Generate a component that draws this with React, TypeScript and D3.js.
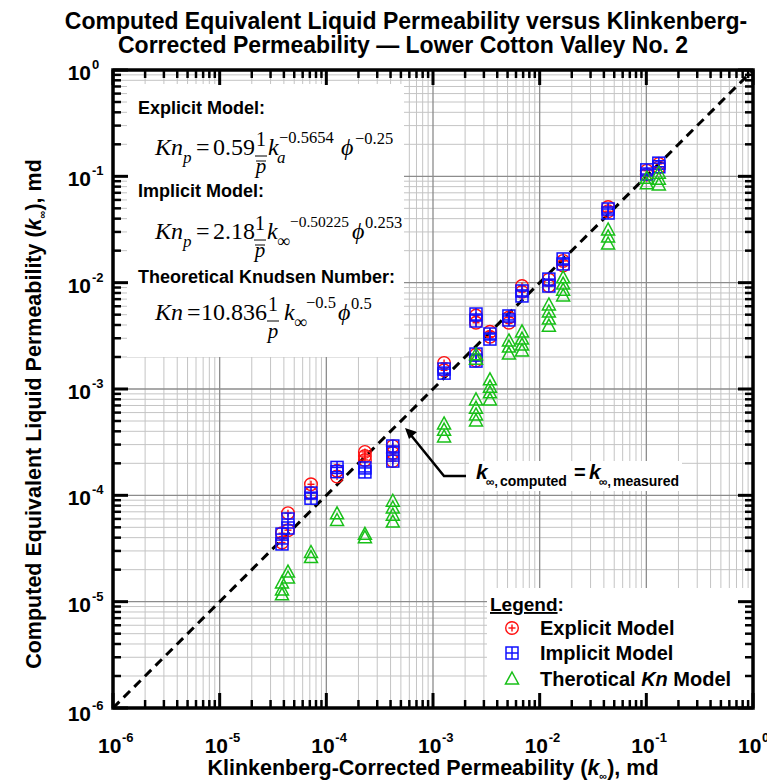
import React from "react";
import * as d3 from "d3";

const W = 767;
const H = 781;
const PL = 113, PR = 753, PT = 70, PB = 708;

// axis decades (exponents of 10) and their labels
const tickExponents = [-6, -5, -4, -3, -2, -1, 0];
const tickLabels = ["-6", "-5", "-4", "-3", "-2", "-1", "0"];
const minorMultipliers = [2, 3, 4, 5, 6, 7, 8, 9];

// Explicit model (red circles)
const explicitK = [
  3.84e-5, 3.84e-5, 4.37e-5, 4.37e-5, 7.18e-5, 7.18e-5, 1.26e-4, 1.26e-4,
  2.3e-4, 2.3e-4, 2.3e-4, 4.2e-4, 4.2e-4, 4.2e-4, 1.27e-3, 1.27e-3,
  2.53e-3, 2.53e-3, 2.53e-3, 2.53e-3, 3.42e-3, 3.42e-3, 5.15e-3, 5.15e-3,
  6.83e-3, 6.83e-3, 1.22e-2, 1.22e-2, 1.66e-2, 1.66e-2, 4.38e-2, 4.38e-2,
  0.101, 0.101, 0.131, 0.131,
];
const explicitKc = [
  4.4e-5, 3.6e-5, 6.8e-5, 4.7e-5, 1.27e-4, 1.05e-4, 1.5e-4, 1.7e-4,
  2.56e-4, 2.34e-4, 2.15e-4, 2.9e-4, 2.5e-4, 2.1e-4, 1.76e-3, 1.5e-3,
  4.9e-3, 4.2e-3, 2.1e-3, 1.85e-3, 3.45e-3, 3.1e-3, 4.7e-3, 4.2e-3,
  9.3e-3, 8.2e-3, 1.07e-2, 9.3e-3, 1.6e-2, 1.45e-2, 5.15e-2, 4.7e-2,
  0.113, 0.104, 0.131, 0.122,
];

// Implicit model (blue squares)
const implicitK = [
  3.84e-5, 3.84e-5, 4.37e-5, 4.37e-5, 7.18e-5, 7.18e-5, 1.26e-4, 1.26e-4,
  2.3e-4, 2.3e-4, 4.2e-4, 4.2e-4, 4.2e-4, 1.27e-3, 1.27e-3,
  2.53e-3, 2.53e-3, 2.53e-3, 2.53e-3, 3.42e-3, 3.42e-3, 5.15e-3, 5.15e-3,
  6.83e-3, 6.83e-3, 1.22e-2, 1.22e-2, 1.66e-2, 1.66e-2, 4.38e-2, 4.38e-2,
  0.101, 0.101, 0.131, 0.131,
];
const implicitKc = [
  4.32e-5, 3.49e-5, 5.99e-5, 4.93e-5, 1.05e-4, 9.4e-5, 1.83e-4, 1.67e-4,
  1.81e-4, 1.66e-4, 2.91e-4, 2.5e-4, 2.1e-4, 1.54e-3, 1.41e-3,
  5.07e-3, 4.36e-3, 2.13e-3, 1.83e-3, 3.29e-3, 2.95e-3, 4.86e-3, 4.46e-3,
  8.35e-3, 7.5e-3, 1.08e-2, 9.3e-3, 1.67e-2, 1.5e-2, 4.93e-2, 4.52e-2,
  0.115, 0.105, 0.133, 0.123,
];

// Theoretical Kn model (green triangles)
const theoryK = [
  3.84e-5, 3.84e-5, 3.84e-5, 4.37e-5, 4.37e-5, 7.18e-5, 7.18e-5,
  1.26e-4, 1.26e-4, 2.3e-4, 2.3e-4, 4.2e-4, 4.2e-4, 4.2e-4, 4.2e-4,
  1.27e-3, 1.27e-3, 1.27e-3,
  2.53e-3, 2.53e-3, 2.53e-3, 2.53e-3, 2.53e-3, 2.53e-3,
  3.42e-3, 3.42e-3, 3.42e-3, 3.42e-3, 5.15e-3, 5.15e-3, 5.15e-3,
  6.83e-3, 6.83e-3, 6.83e-3, 6.83e-3, 1.22e-2, 1.22e-2, 1.22e-2, 1.22e-2,
  1.66e-2, 1.66e-2, 1.66e-2, 1.66e-2, 4.38e-2, 4.38e-2, 4.38e-2,
  0.101, 0.101, 0.131, 0.131, 0.131,
];
const theoryKc = [
  1.5e-5, 1.29e-5, 1.16e-5, 1.9e-5, 1.67e-5, 2.9e-5, 2.6e-5,
  6.7e-5, 5.8e-5, 4.3e-5, 4.0e-5, 8.8e-5, 7.6e-5, 6.5e-5, 5.6e-5,
  4.69e-4, 4.1e-4, 3.54e-4,
  2.1e-3, 1.9e-3, 7.9e-4, 6.6e-4, 5.7e-4, 5.0e-4,
  1.22e-3, 1.04e-3, 9.2e-4, 7.9e-4, 2.83e-3, 2.48e-3, 2.13e-3,
  3.44e-3, 2.95e-3, 2.59e-3, 2.28e-3, 6.17e-3, 5.3e-3, 4.55e-3, 3.9e-3,
  1.11e-2, 9.7e-3, 8.5e-3, 7.5e-3, 3.13e-2, 2.69e-2, 2.31e-2,
  9.6e-2, 8.5e-2, 0.107, 0.094, 0.083,
];

const legendLabels = ["Explicit Model", "Implicit Model", "Therotical "];

const RED = "#ff1010";
const BLUE = "#1010ff";
const GREEN = "#18c018";
const SANS = "'Liberation Sans', Arial, sans-serif";
const SERIF = "'Liberation Serif', 'Times New Roman', 'DejaVu Serif', serif";

const x = d3.scaleLog().domain([1e-6, 1]).range([PL, PR]);
const y = d3.scaleLog().domain([1e-6, 1]).range([PB, PT]);

const Circ = ({ cx, cy }: { cx: number; cy: number }) => (
  <g stroke={RED} strokeWidth={1.4} fill="none">
    <circle cx={cx} cy={cy} r={6.3} />
    <line x1={cx - 3.5} x2={cx + 3.5} y1={cy} y2={cy} />
    <line x1={cx} x2={cx} y1={cy - 3.5} y2={cy + 3.5} />
  </g>
);
const Sq = ({ cx, cy }: { cx: number; cy: number }) => (
  <g stroke={BLUE} strokeWidth={1.5} fill="none">
    <rect x={cx - 6} y={cy - 6} width={12} height={12} />
    <line x1={cx - 6} x2={cx + 6} y1={cy} y2={cy} />
    <line x1={cx} x2={cx} y1={cy - 6} y2={cy + 6} />
  </g>
);
const Tri = ({ cx, cy }: { cx: number; cy: number }) => (
  <path
    d={`M${cx},${cy - 7}L${cx + 6.5},${cy + 5}L${cx - 6.5},${cy + 5}Z`}
    stroke={GREEN}
    strokeWidth={1.5}
    fill="none"
  />
);

// absolute positions (px) of each equation part
const Equation = ({
  y0, coef, kSub, kExp, phiExp, bar, prefixSub, eqX, coefX, fracX, kX, subX, expX, phiX, phiExpX, expSize,
}: any) => (
  <g fontFamily={SERIF} fill="#000">
    <text x={155} y={y0} fontSize={24} fontStyle="italic">Kn</text>
    {prefixSub && (
      <text x={183} y={y0 + 8} fontSize={17} fontStyle="italic">p</text>
    )}
    <text x={eqX} y={y0} fontSize={24}>=</text>
    <text x={coefX} y={y0} fontSize={24}>{coef}</text>
    <text x={fracX} y={y0 - 9} fontSize={20} textAnchor="middle">1</text>
    <line x1={fracX - 6} x2={fracX + 6} y1={y0 + 1} y2={y0 + 1} stroke="#000" strokeWidth={1} />
    <text x={fracX} y={y0 + 18} fontSize={21} fontStyle="italic" textAnchor="middle">p</text>
    {bar && (
      <line x1={fracX - 5} x2={fracX + 5} y1={y0 + 6} y2={y0 + 6} stroke="#000" strokeWidth={1} />
    )}
    <text x={kX} y={y0} fontSize={24} fontStyle="italic">k</text>
    <text x={subX} y={y0 + 8} fontSize={kSub === "a" ? 17 : 18} fontStyle={kSub === "a" ? "italic" : "normal"}>{kSub}</text>
    <text x={expX} y={y0 - 12} fontSize={expSize}>{kExp}</text>
    <text x={phiX} y={y0} fontSize={24} fontStyle="italic">ϕ</text>
    <text x={phiExpX} y={y0 - 11} fontSize={16.5}>{phiExp}</text>
  </g>
);

export default function App() {
  const majors = tickExponents.map((e) => Math.pow(10, e));
  const minors: number[] = [];
  tickExponents.slice(0, -1).forEach((e) =>
    minorMultipliers.forEach((m) => minors.push(m * Math.pow(10, e)))
  );

  const arrowTip = [405, 428];

  return (
    <svg width={W} height={H} style={{ display: "block", position: "absolute", left: 0, top: 0 }}>
      <rect width={W} height={H} fill="#fff" />
      {/* title */}
      <g fontFamily={SANS} fontWeight="bold" fontSize={23} textAnchor="middle" fill="#000">
        <text x={406} y={29}>Computed Equivalent Liquid Permeability versus Klinkenberg-</text>
        <text x={403} y={53}>Corrected Permeability — Lower Cotton Valley No. 2</text>
      </g>

      {/* grid */}
      <g>
        {minors.map((v, i) => (
          <g key={"mi" + i} stroke="#c4c4c4" strokeWidth={1}>
            <line x1={x(v)} x2={x(v)} y1={PT} y2={PB} />
            <line x1={PL} x2={PR} y1={y(v)} y2={y(v)} />
          </g>
        ))}
        {majors.map((v, i) => (
          <g key={"ma" + i} stroke="#8c8c8c" strokeWidth={1.3}>
            <line x1={x(v)} x2={x(v)} y1={PT} y2={PB} />
            <line x1={PL} x2={PR} y1={y(v)} y2={y(v)} />
          </g>
        ))}
      </g>

      {/* white boxes */}
      <rect x={127} y={84} width={277} height={273} fill="#fff" />
      <rect x={487} y={588} width={PR - 487} height={PB - 588} fill="#fff" />
      <rect x={469} y={461} width={213} height={30} fill="#fff" />

      {/* 1:1 line */}
      <line
        x1={x(1e-6)} y1={y(1e-6)} x2={x(1)} y2={y(1)}
        stroke="#000" strokeWidth={3} strokeDasharray="9 6"
      />

      {/* data */}
      {explicitK.map((k, i) => <Circ key={"c" + i} cx={x(k)} cy={y(explicitKc[i])} />)}
      {implicitK.map((k, i) => <Sq key={"s" + i} cx={x(k)} cy={y(implicitKc[i])} />)}
      {theoryK.map((k, i) => <Tri key={"t" + i} cx={x(k)} cy={y(theoryKc[i])} />)}

      {/* arrow annotation */}
      <polyline
        points={`466,476 444,476 ${arrowTip[0] + 5},${arrowTip[1] + 6}`}
        fill="none" stroke="#000" strokeWidth={2.5}
      />
      <path d={`M${arrowTip[0]},${arrowTip[1]} L${arrowTip[0] + 12},${arrowTip[1] + 4} L${arrowTip[0] + 4},${arrowTip[1] + 11} Z`} fill="#000" />
      <g fontFamily={SANS} fontWeight="bold" fill="#000">
        <text x={476} y={479} fontSize={21} fontStyle="italic">k</text>
        <text x={486} y={486} fontSize={12}>∞,</text>
        <text x={500} y={486} fontSize={14}>computed</text>
        <text x={574} y={479} fontSize={20}>=</text>
        <text x={589} y={479} fontSize={21} fontStyle="italic">k</text>
        <text x={599} y={486} fontSize={12}>∞,</text>
        <text x={613} y={486} fontSize={14}>measured</text>
      </g>

      {/* equations */}
      <g fontFamily={SANS} fontWeight="bold" fontSize={18} fill="#000">
        <text x={138} y={114}>Explicit Model:</text>
        <text x={138} y={197}>Implicit Model:</text>
        <text x={138} y={283}>Theoretical Knudsen Number:</text>
      </g>
      <Equation y0={155} coef="0.59" kSub="a" kExp="−0.5654" phiExp="−0.25" bar prefixSub expSize={16.5}
        eqX={196} coefX={213} fracX={261} kX={268} subX={277} expX={279} phiX={341} phiExpX={355} />
      <Equation y0={239} coef="2.18" kSub="∞" kExp="−0.50225" phiExp="0.253" bar prefixSub expSize={15.5}
        eqX={196} coefX={213} fracX={260} kX={267} subX={277} expX={290} phiX={352} phiExpX={365} />
      <Equation y0={320} coef="10.836" kSub="∞" kExp="−0.5" phiExp="0.5" bar={false} prefixSub={false} expSize={16.5}
        eqX={187} coefX={201} fracX={273} kX={284} subX={294} expX={306} phiX={338} phiExpX={351} />

      {/* legend */}
      <g fontFamily={SANS} fontWeight="bold" fill="#000">
        <text x={490} y={611} fontSize={19}>
          <tspan textDecoration="underline">Legend</tspan>:
        </text>
        <Circ cx={512} cy={628} />
        <Sq cx={512} cy={653} />
        <Tri cx={512} cy={679} />
        <text x={540} y={635} fontSize={20}>{legendLabels[0]}</text>
        <text x={540} y={660} fontSize={20}>{legendLabels[1]}</text>
        <text x={540} y={686} fontSize={20}>
          {legendLabels[2]}
          <tspan fontStyle="italic">Kn</tspan> Model
        </text>
      </g>

      {/* ticks */}
      <g stroke="#000">
        {minors.map((v, i) => (
          <g key={"tm" + i} strokeWidth={2.5}>
            <line x1={x(v)} x2={x(v)} y1={PB} y2={PB - 8} />
            <line x1={x(v)} x2={x(v)} y1={PT} y2={PT + 8} />
            <line x1={PL} x2={PL + 8} y1={y(v)} y2={y(v)} />
            <line x1={PR} x2={PR - 8} y1={y(v)} y2={y(v)} />
          </g>
        ))}
        {majors.map((v, i) => (
          <g key={"tM" + i} strokeWidth={3}>
            <line x1={x(v)} x2={x(v)} y1={PB} y2={PB - 15} />
            <line x1={x(v)} x2={x(v)} y1={PT} y2={PT + 15} />
            <line x1={PL} x2={PL + 15} y1={y(v)} y2={y(v)} />
            <line x1={PR} x2={PR - 15} y1={y(v)} y2={y(v)} />
          </g>
        ))}
      </g>
      <rect x={PL} y={PT} width={PR - PL} height={PB - PT} fill="none" stroke="#000" strokeWidth={3.5} />

      {/* tick labels */}
      <g fontFamily={SANS} fontWeight="bold" fill="#000">
        {majors.map((v, i) => (
          <g key={"xl" + i}>
            <text x={x(v) - 15} y={753} fontSize={21}>10</text>
            <text x={x(v) + 9} y={742} fontSize={13}>{tickLabels[i]}</text>
          </g>
        ))}
        {majors.map((v, i) => (
          <g key={"yl" + i}>
            <text x={91} y={y(v) + 10 + (i === 0 ? 3 : 0)} fontSize={21} textAnchor="end">10</text>
            <text x={92} y={y(v) - 1 + (i === 0 ? 3 : 0)} fontSize={13}>{tickLabels[i]}</text>
          </g>
        ))}
      </g>

      {/* axis titles */}
      <g fontFamily={SANS} fontWeight="bold" fontSize={21.5} fill="#000">
        <text x={433} y={775} textAnchor="middle">
          Klinkenberg-Corrected Permeability (<tspan fontStyle="italic">k</tspan>
          <tspan fontSize={11} dy={5}>∞</tspan>
          <tspan dy={-5}>), md</tspan>
        </text>
        <text transform="translate(41,414) rotate(-90)" textAnchor="middle">
          Computed Equivalent Liquid Permeability (<tspan fontStyle="italic">k</tspan>
          <tspan fontSize={11} dy={5}>∞</tspan>
          <tspan dy={-5}>), md</tspan>
        </text>
      </g>
    </svg>
  );
}
